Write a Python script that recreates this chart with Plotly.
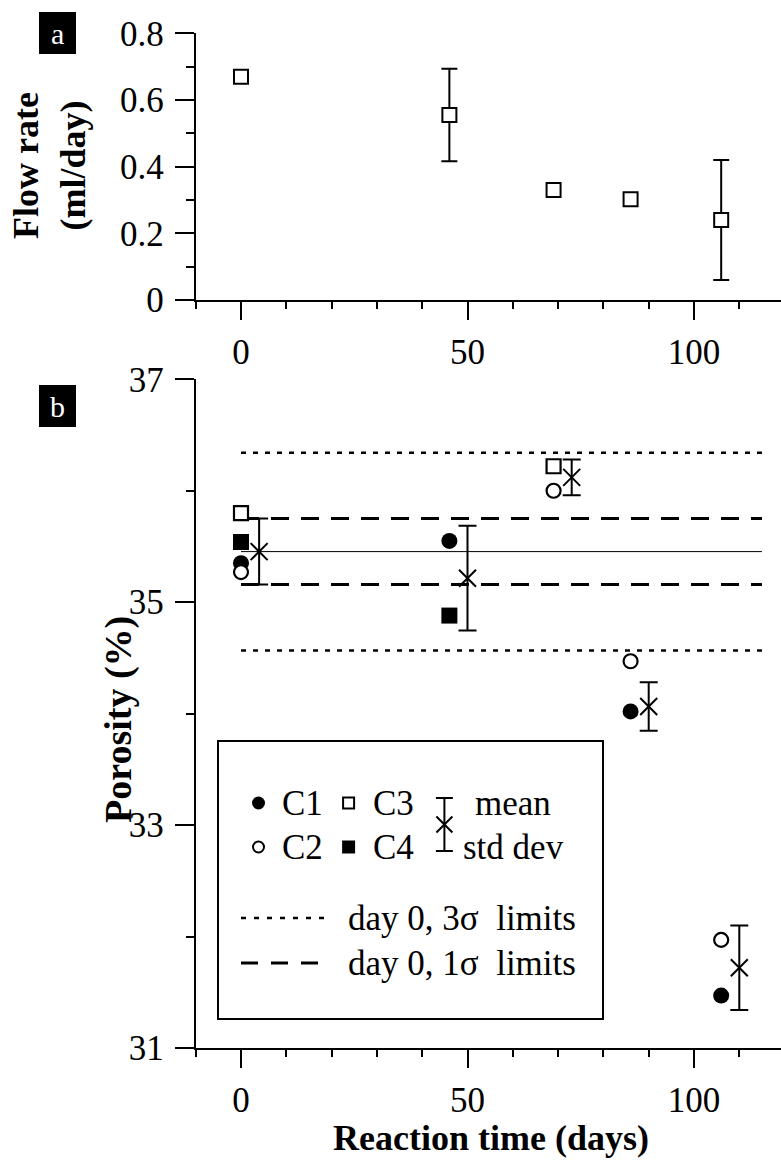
import plotly.graph_objects as go

# ---------------- data ----------------
flow_days = [0, 46, 69, 86, 106]
flow_rate = [0.670, 0.555, 0.330, 0.302, 0.240]
flow_err = [None, 0.139, None, None, 0.180]

c1_days = [0, 46, 86, 106]
c1_por = [35.35, 35.55, 34.02, 31.47]
c2_days = [0, 69, 86, 106]
c2_por = [35.27, 36.00, 34.47, 31.97]
c3_days = [0, 69]
c3_por = [35.80, 36.22]
c4_days = [0, 46]
c4_por = [35.54, 34.88]

mean_days = [0, 46, 69, 86, 106]
mean_por = [35.454, 35.215, 36.12, 34.064, 31.72]
mean_std = [0.296, 0.470, 0.160, 0.217, 0.380]
mean_offset = 4  # means are drawn slightly right of their day

day0_mean = 35.454
day0_sigma = 0.296
limit_end = 115

x_ticks_major = [0, 50, 100]

# ---------------- layout helpers ----------------
W, H = 781, 1161
FONT = "Liberation Serif, Times New Roman, serif"


def dom_y(top_px, bottom_px):
    return [1 - bottom_px / H, 1 - top_px / H]


x_left_px = 195.7
fig = go.Figure()

# ---------- panel a ----------
err_x = [d for d, e in zip(flow_days, flow_err) if e is not None]
err_y = [r for r, e in zip(flow_rate, flow_err) if e is not None]
err_v = [e for e in flow_err if e is not None]
fig.add_trace(go.Scatter(
    x=err_x, y=err_y, mode="markers", xaxis="x", yaxis="y",
    marker=dict(size=1, color="rgba(0,0,0,0)"),
    error_y=dict(type="data", array=err_v, visible=True, color="black",
                 thickness=2, width=8),
    hoverinfo="skip"))
fig.add_trace(go.Scatter(
    x=flow_days, y=flow_rate, mode="markers", xaxis="x", yaxis="y",
    marker=dict(symbol="square", size=14, color="white",
                line=dict(color="black", width=2))))

# ---------- panel b ----------
line_x = [0, limit_end]
for k, dash, w in [(3, "5px,7px", 2.5), (-3, "5px,7px", 2.5),
                   (1, "18px,12px", 3), (-1, "18px,12px", 3),
                   (0, "solid", 1)]:
    v = day0_mean + k * day0_sigma
    fig.add_trace(go.Scatter(
        x=line_x, y=[v, v], mode="lines", xaxis="x2", yaxis="y2",
        line=dict(color="black", width=w, dash=dash), hoverinfo="skip"))

fig.add_trace(go.Scatter(
    x=[d + mean_offset for d in mean_days], y=mean_por, mode="markers",
    xaxis="x2", yaxis="y2",
    marker=dict(symbol="x-thin", size=17, color="black",
                line=dict(color="black", width=2)),
    error_y=dict(type="data", array=mean_std, visible=True, color="black",
                 thickness=2, width=9)))
fig.add_trace(go.Scatter(
    x=c1_days, y=c1_por, mode="markers", xaxis="x2", yaxis="y2",
    marker=dict(symbol="circle", size=16, color="black")))
fig.add_trace(go.Scatter(
    x=c2_days, y=c2_por, mode="markers", xaxis="x2", yaxis="y2",
    marker=dict(symbol="circle", size=14, color="white",
                line=dict(color="black", width=2.2))))
fig.add_trace(go.Scatter(
    x=c3_days, y=c3_por, mode="markers", xaxis="x2", yaxis="y2",
    marker=dict(symbol="square", size=14, color="white",
                line=dict(color="black", width=2.2))))
fig.add_trace(go.Scatter(
    x=c4_days, y=c4_por, mode="markers", xaxis="x2", yaxis="y2",
    marker=dict(symbol="square", size=16, color="black")))

# ---------- custom legend (pixel-space overlay axis) ----------
fig.add_trace(go.Scatter(
    x=[258.5], y=[803], mode="markers", xaxis="x3", yaxis="y3",
    marker=dict(symbol="circle", size=13, color="black"), hoverinfo="skip"))
fig.add_trace(go.Scatter(
    x=[258.5], y=[847], mode="markers", xaxis="x3", yaxis="y3",
    marker=dict(symbol="circle", size=11, color="white",
                line=dict(color="black", width=2)), hoverinfo="skip"))
fig.add_trace(go.Scatter(
    x=[348.6], y=[803], mode="markers", xaxis="x3", yaxis="y3",
    marker=dict(symbol="square", size=11, color="white",
                line=dict(color="black", width=2)), hoverinfo="skip"))
fig.add_trace(go.Scatter(
    x=[348.6], y=[847], mode="markers", xaxis="x3", yaxis="y3",
    marker=dict(symbol="square", size=13, color="black"), hoverinfo="skip"))
fig.add_trace(go.Scatter(
    x=[444.4], y=[824.5], mode="markers", xaxis="x3", yaxis="y3",
    marker=dict(symbol="x-thin", size=16, color="black",
                line=dict(color="black", width=2)),
    error_y=dict(type="data", array=[26.5], visible=True, color="black",
                 thickness=2, width=8.5), hoverinfo="skip"))

shapes = [
    dict(type="rect", xref="x3", yref="y3", x0=218, x1=603, y0=741, y1=1019,
         line=dict(color="black", width=2), fillcolor="rgba(0,0,0,0)", layer="below"),
    dict(type="line", xref="x3", yref="y3", x0=241, x1=326, y0=918, y1=918,
         line=dict(color="black", width=2.5, dash="5px,8px")),
    dict(type="line", xref="x3", yref="y3", x0=241, x1=318, y0=963, y1=963,
         line=dict(color="black", width=3, dash="17px,13px")),
    dict(type="rect", xref="x3", yref="y3", x0=39, x1=76, y0=12, y1=54,
         line=dict(width=0), fillcolor="black"),
    dict(type="rect", xref="x3", yref="y3", x0=39, x1=76, y0=385, y1=427,
         line=dict(width=0), fillcolor="black"),
]

annotations = []


def txt(x, y, s, size=35, bold=False, color="black", xanchor="left", angle=0):
    if bold:
        s = "<b>" + s + "</b>"
    annotations.append(dict(
        xref="x3", yref="y3", x=x, y=y, text=s, showarrow=False,
        xanchor=xanchor, yanchor="middle", textangle=angle,
        font=dict(family=FONT, size=size, color=color)))


txt(280, 803, "C1")
txt(371, 803, "C3")
txt(280, 847, "C2")
txt(371, 847, "C4")
txt(473, 803, "mean")
txt(461, 847, "std dev")
txt(346, 918, "day 0, 3σ  limits")
txt(346, 963, "day 0, 1σ  limits")
txt(57.5, 33, "a", size=30, color="white", xanchor="center")
txt(57.5, 406, "b", size=30, color="white", xanchor="center")
txt(49, 166, "Flow rate<br>(ml/day)", size=36, bold=True, xanchor="center", angle=-90)
txt(118, 720, "Porosity (%)", size=38, bold=True, xanchor="center", angle=-90)
txt(491, 1138, "Reaction time (days)", size=36, bold=True, xanchor="center")

x_range = [-10, -10 + (W - x_left_px) / 4.53]


def xaxis_cfg():
    return dict(
        domain=[x_left_px / W, 1], range=x_range, tickmode="array",
        tickvals=x_ticks_major, ticks="outside", ticklen=18, tickwidth=2,
        tickcolor="black",
        minor=dict(dtick=10, tick0=0, ticks="outside", ticklen=7,
                   tickwidth=2, tickcolor="black"),
        showline=True, linecolor="black", linewidth=2, showgrid=False,
        zeroline=False, automargin=False, ticklabelstandoff=2,
        tickfont=dict(family=FONT, size=35, color="black"))


def yaxis_cfg(rng, dtick, mdtick, dom):
    return dict(
        domain=dom, range=rng, tickmode="linear", tick0=rng[0], dtick=dtick,
        ticks="outside", ticklen=19, tickwidth=2, tickcolor="black",
        minor=dict(dtick=mdtick, tick0=rng[0], ticks="outside", ticklen=8,
                   tickwidth=2, tickcolor="black"),
        showline=True, linecolor="black", linewidth=2, showgrid=False,
        zeroline=False, automargin=False, ticklabelstandoff=4,
        tickfont=dict(family=FONT, size=35, color="black"))


xa = xaxis_cfg()
xa["anchor"] = "y"
xb = xaxis_cfg()
xb["anchor"] = "y2"
ya = yaxis_cfg([0, 0.8], 0.2, 0.1, dom_y(33.3, 300))
ya["anchor"] = "x"
yb = yaxis_cfg([31, 37], 2, 1, dom_y(379.3, 1048))
yb["anchor"] = "x2"

fig.update_layout(
    width=W, height=H, template="none", showlegend=False,
    margin=dict(l=0, r=0, t=0, b=0, pad=0),
    paper_bgcolor="white", plot_bgcolor="rgba(0,0,0,0)",
    xaxis=xa, yaxis=ya, xaxis2=xb, yaxis2=yb,
    xaxis3=dict(domain=[0, 1], range=[0, W], visible=False, anchor="y3",
                fixedrange=True),
    yaxis3=dict(domain=[0, 1], range=[H, 0], visible=False, anchor="x3",
                fixedrange=True),
    shapes=shapes, annotations=annotations,
    font=dict(family=FONT, color="black"),
)

fig.write_html(
    "out.html",
    config={"displayModeBar": False, "staticPlot": True},
    post_script="document.body.style.margin='0px';document.body.style.overflow='hidden';",
)
